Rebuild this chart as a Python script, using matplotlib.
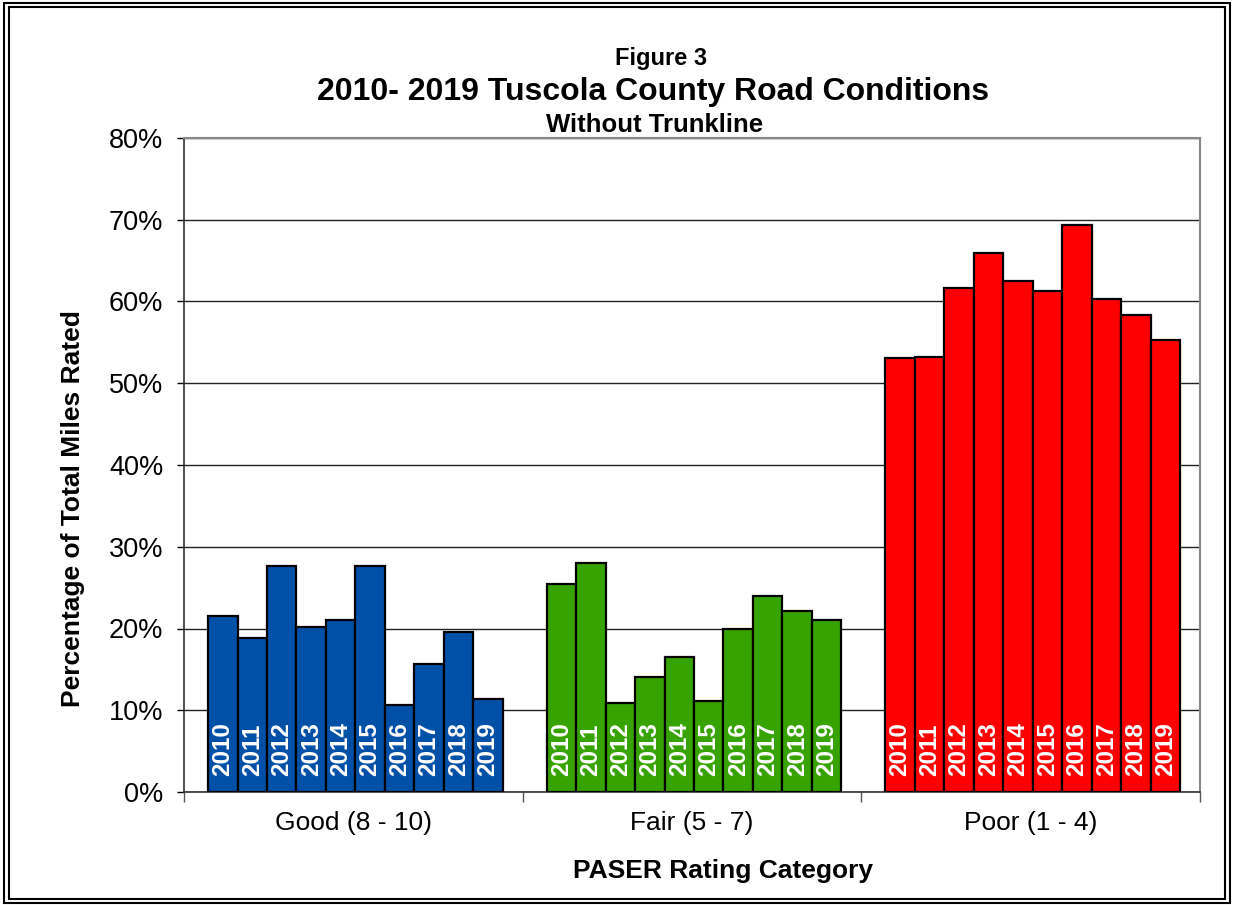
import matplotlib
matplotlib.use('Agg')
import matplotlib.pyplot as plt
import numpy as np
from matplotlib.patches import Rectangle

plt.rcParams['font.family'] = ['Liberation Sans', 'DejaVu Sans']

# dados
categorias = ['Good (8 - 10)', 'Fair (5 - 7)', 'Poor (1 - 4)']
anos = ['2010', '2011', '2012', '2013', '2014', '2015', '2016', '2017', '2018', '2019']
good = [21.5, 18.8, 27.6, 20.2, 21.1, 27.7, 10.7, 15.7, 19.6, 11.4]
fair = [25.5, 28.0, 10.9, 14.1, 16.5, 11.1, 20.0, 24.0, 22.1, 21.1]
poor = [53.1, 53.2, 61.6, 65.9, 62.5, 61.3, 69.3, 60.3, 58.4, 55.3]
cores = ['#0050A8', '#36A300', '#FF0000']

fig = plt.figure(figsize=(12.33, 9.05), dpi=100)
ax = fig.add_axes([184/1233, 113/905, 1016/1233, 654/905])

largura = 0.087
n = len(anos)
for i, (vals, cor) in enumerate(zip([good, fair, poor], cores)):
    xs = i + (np.arange(n) - (n - 1) / 2) * largura + 0.006
    ax.bar(xs, vals, width=largura, color=cor, edgecolor='black', linewidth=1.6, zorder=3)
    for x, ano in zip(xs, anos):
        ax.text(x, 2.0, ano, rotation=90, ha='center', va='bottom', color='white',
                fontsize=17.5, fontweight='bold', zorder=4)

ax.set_xlim(-0.5, 2.5)
ax.set_ylim(0, 80)
ax.set_yticks(np.arange(0, 81, 10))
ax.set_yticklabels([f'{v}%' for v in range(0, 81, 10)], fontsize=19.5)
ax.set_xticks([0, 1, 2])
ax.set_xticklabels(categorias, fontsize=19)
ax.set_xticks([-0.5, 0.5, 1.5, 2.5], minor=True)
ax.tick_params(axis='x', which='major', length=0, pad=14)
ax.tick_params(axis='x', which='minor', length=7, width=1, color='#555555')
ax.tick_params(axis='y', length=5, width=1, pad=10)

ax.grid(axis='y', color='#222222', linewidth=1, zorder=0)
for lado in ['top', 'right']:
    ax.spines[lado].set_color('#888888')
    ax.spines[lado].set_linewidth(1.5)
for lado in ['left', 'bottom']:
    ax.spines[lado].set_color('#333333')
    ax.spines[lado].set_linewidth(1.2)

ax.set_ylabel('Percentage of Total Miles Rated', fontsize=19, fontweight='bold')
ax.set_xlabel('PASER Rating Category', fontsize=19, fontweight='bold')
ax.yaxis.set_label_coords(-0.097, 0.433)
ax.xaxis.set_label_coords(0.531, -0.103)

fig.text(0.536, 1 - 58/905, 'Figure 3', ha='center', va='center', fontsize=17, fontweight='bold')
fig.text(0.53, 1 - 92/905, '2010- 2019 Tuscola County Road Conditions', ha='center', va='center',
         fontsize=23, fontweight='bold')
fig.text(0.531, 1 - 125/905, 'Without Trunkline', ha='center', va='center', fontsize=18.5, fontweight='bold')

# moldura dupla
fig.patches.append(Rectangle((4/1233, 2/905), 1226/1233, 900/905, transform=fig.transFigure,
                             fill=False, edgecolor='black', linewidth=1.5))
fig.patches.append(Rectangle((9/1233, 6/905), 1216/1233, 892/905, transform=fig.transFigure,
                             fill=False, edgecolor='black', linewidth=1.5))

fig.savefig('out.png', dpi=100)
